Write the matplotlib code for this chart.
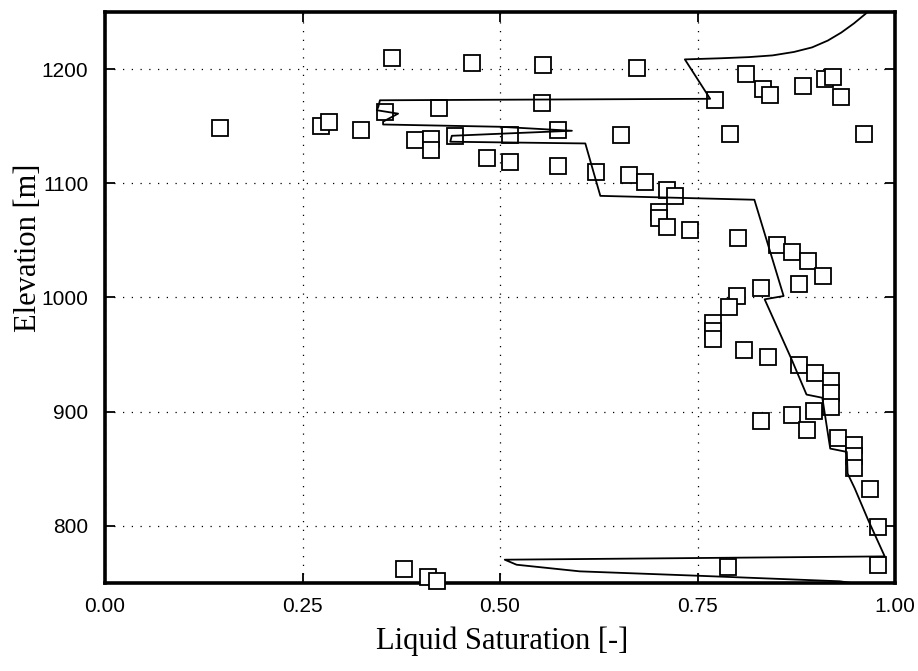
""" plot.py """

import numpy as np
import matplotlib
matplotlib.use("Agg")
import matplotlib.pyplot as plt

# measured liquid saturation (squares)
sat_obs: list[float] = [
    0.363, 0.464, 0.554, 0.673, 0.145, 0.274, 0.284, 0.324, 0.354, 0.423,
    0.553, 0.772, 0.812, 0.833, 0.842, 0.883, 0.911, 0.922, 0.932, 0.392,
    0.413, 0.413, 0.443, 0.513, 0.573, 0.653, 0.791, 0.961, 0.483, 0.513,
    0.573, 0.622, 0.663, 0.683, 0.712, 0.722, 0.701, 0.701, 0.712, 0.741,
    0.801, 0.850, 0.870, 0.890, 0.909, 0.879, 0.830, 0.800, 0.790, 0.770,
    0.770, 0.770, 0.809, 0.839, 0.878, 0.899, 0.919, 0.919, 0.919, 0.898,
    0.869, 0.830, 0.889, 0.928, 0.948, 0.948, 0.948, 0.968, 0.978, 0.978,
    0.788, 0.379, 0.409, 0.420,
]
elev_obs: list[float] = [
    1210, 1205, 1204, 1201, 1148, 1150, 1154, 1147, 1162, 1166,
    1170, 1173, 1196, 1183, 1177, 1185, 1191, 1193, 1176, 1138,
    1139, 1129, 1141, 1142, 1147, 1142, 1143, 1143, 1122, 1119,
    1115, 1110, 1107, 1101, 1094, 1089, 1075, 1070, 1062, 1059,
    1052, 1046, 1040, 1032, 1019, 1012, 1008, 1001, 992, 978,
    971, 964, 954, 948, 941, 934, 927, 916, 904, 901,
    897, 892, 884, 877, 871, 861, 851, 832, 799, 766,
    764, 762, 755, 752,
]

# simulated profile (line)
sat_sim: list[float] = [
    0.975, 0.962, 0.948, 0.932, 0.915, 0.895, 0.872, 0.845, 0.815, 0.780,
    0.734, 0.766, 0.348, 0.346, 0.344, 0.371, 0.352, 0.352, 0.500, 0.591,
    0.500, 0.439, 0.437, 0.608, 0.627, 0.822, 0.859, 0.835, 0.869, 0.888,
    0.908, 0.918, 0.939, 0.940, 0.949, 0.966, 0.987, 0.506, 0.521, 0.601,
    0.749, 0.930, 1.006,
]
elev_sim: list[float] = [
    1256, 1248, 1240, 1232, 1225, 1219, 1215, 1212, 1210.5, 1209.5,
    1208.5, 1174, 1172.7, 1167, 1164, 1161, 1154, 1151.5, 1149.5, 1146,
    1143.4, 1141.6, 1136.4, 1134.9, 1089, 1085.6, 1001.3, 998.4, 946, 915,
    912.2, 867.7, 864.8, 845.9, 832.9, 805.2, 773.3, 770.4, 766, 760.2,
    756.4, 751.5, 744,
]

x_ticks: list[float] = [0.0, 0.25, 0.5, 0.75, 1.0]
x_tick_labels: list[str] = ["0.00", "0.25", "0.50", "0.75", "1.00"]
y_ticks: list[int] = [800, 900, 1000, 1100, 1200]

fig = plt.figure(figsize=(9.18, 6.71), dpi=100)
ax = fig.add_axes([105 / 918, 1 - 583 / 671, 790 / 918, 571 / 671])

ax.plot(sat_obs, elev_obs, "s", ms=11, mfc="white", mec="black", mew=1.3,
        zorder=3, clip_on=False)
ax.plot(sat_sim, elev_sim, "k-", lw=1.3, zorder=4)

ax.set_xlim(0.0, 1.0)
ax.set_ylim(750, 1250)
ax.set_xticks(x_ticks)
ax.set_xticklabels(x_tick_labels)
ax.set_yticks(y_ticks)

ax.grid(True, color="black", linestyle=(0, (1, 6)), linewidth=0.9)
ax.set_axisbelow(True)
for side in ["top", "bottom", "left", "right"]:
    ax.spines[side].set_linewidth(2.6)

ax.tick_params(direction="in", length=7, width=1.3, top=True, right=True,
               labelsize=15)
ax.tick_params(axis="x", pad=10)
ax.tick_params(axis="y", pad=12)
for lab in ax.get_xticklabels() + ax.get_yticklabels():
    lab.set_family(["Liberation Sans", "DejaVu Sans"])

ax.set_xlabel("Liquid Saturation [-]", family="Liberation Serif",
              fontsize=22)
ax.set_ylabel("Elevation [m]", family="Liberation Serif", fontsize=22)
ax.xaxis.set_label_coords(0.503, -0.077)
ax.yaxis.set_label_coords(-0.079, 0.587)

fig.savefig("out.png", dpi=100)
print("saved out.png")
